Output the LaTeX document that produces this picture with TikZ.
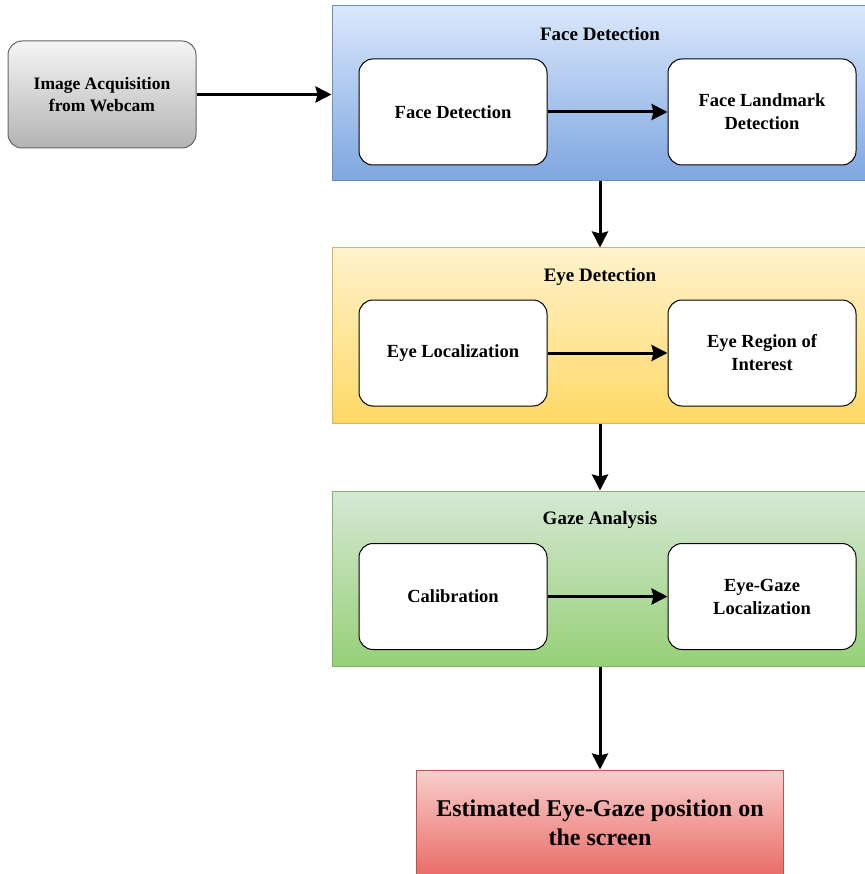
\documentclass[tikz,border=0pt]{standalone}
\usepackage{fontspec}
\setmainfont{Liberation Serif}
\usetikzlibrary{arrows.meta}

\definecolor{grayTop}{HTML}{F5F5F5}
\definecolor{grayBot}{HTML}{B3B3B3}
\definecolor{grayLine}{HTML}{666666}
\definecolor{blueTop}{HTML}{DAE8FC}
\definecolor{blueBot}{HTML}{7EA6E0}
\definecolor{blueLine}{HTML}{6C8EBF}
\definecolor{yellowTop}{HTML}{FFF2CC}
\definecolor{yellowBot}{HTML}{FFD966}
\definecolor{yellowLine}{HTML}{D6B656}
\definecolor{greenTop}{HTML}{D5E8D4}
\definecolor{greenBot}{HTML}{97D077}
\definecolor{greenLine}{HTML}{82B366}
\definecolor{redTop}{HTML}{F8CECC}
\definecolor{redBot}{HTML}{EA6B66}
\definecolor{redLine}{HTML}{B85450}

\tikzset{
  stage/.style={draw=#1Line, line width=1pt, top color=#1Top, bottom color=#1Bot,
    minimum width=536pt, minimum height=175pt, inner sep=0pt},
  stagetitle/.style={font=\fontsize{19}{22}\selectfont\bfseries},
  inner/.style={draw=black, line width=1pt, fill=white, rounded corners=14pt,
    minimum width=188pt, minimum height=106pt, align=center, inner sep=2pt,
    font=\fontsize{18.5}{23}\selectfont\bfseries},
  flow/.style={line width=3pt, -{Stealth[length=16pt,width=16pt,inset=2pt]}},
}

\begin{document}
\begin{tikzpicture}[x=1pt,y=-1pt]
\useasboundingbox (0,0) rectangle (864,874);

% input
\node[draw=grayLine, line width=1pt, top color=grayTop, bottom color=grayBot,
  rounded corners=14pt, minimum width=188pt, minimum height=107pt, align=center,
  font=\fontsize{17.5}{22}\selectfont\bfseries] (acq) at (102,94.5)
  {Image Acquisition\\from Webcam};

% stage 1
\node[stage=blue] (face) at (600,93) {};
\node[stagetitle] (faceT) at (600,34) {Face Detection};
\node[inner] (fd) at (453,112) {Face Detection};
\node[inner] (fl) at (762,112) {Face Landmark\\Detection};

% stage 2
\node[stage=yellow] (eye) at (600,335.5) {};
\node[stagetitle] (eyeT) at (600,277) {Eye Detection};
\node[inner] (el) at (453,353) {Eye Localization};
\node[inner] (er) at (762,353) {Eye Region of\\Interest};

% stage 3
\node[stage=green] (gaze) at (600,578.5) {};
\node[stagetitle] (gazeT) at (600,520) {Gaze Analysis};
\node[inner] (ca) at (453,596.5) {Calibration};
\node[inner] (gl) at (762,596.5) {Eye-Gaze\\Localization};

% output
\node[draw=redLine, line width=1pt, top color=redTop, bottom color=redBot,
  minimum width=367pt, minimum height=106pt, align=center,
  font=\fontsize{24}{29}\selectfont\bfseries] (out) at (600,823)
  {Estimated Eye-Gaze position on\\the screen};

% connectors
\draw[flow] (acq.east) -- (face.west |- acq.east);
\draw[flow] (fd) -- (fl);
\draw[flow] (el) -- (er);
\draw[flow] (ca) -- (gl);
\draw[flow] (face) -- (eye);
\draw[flow] (eye) -- (gaze);
\draw[flow] (gaze) -- (out);
\end{tikzpicture}
\end{document}
